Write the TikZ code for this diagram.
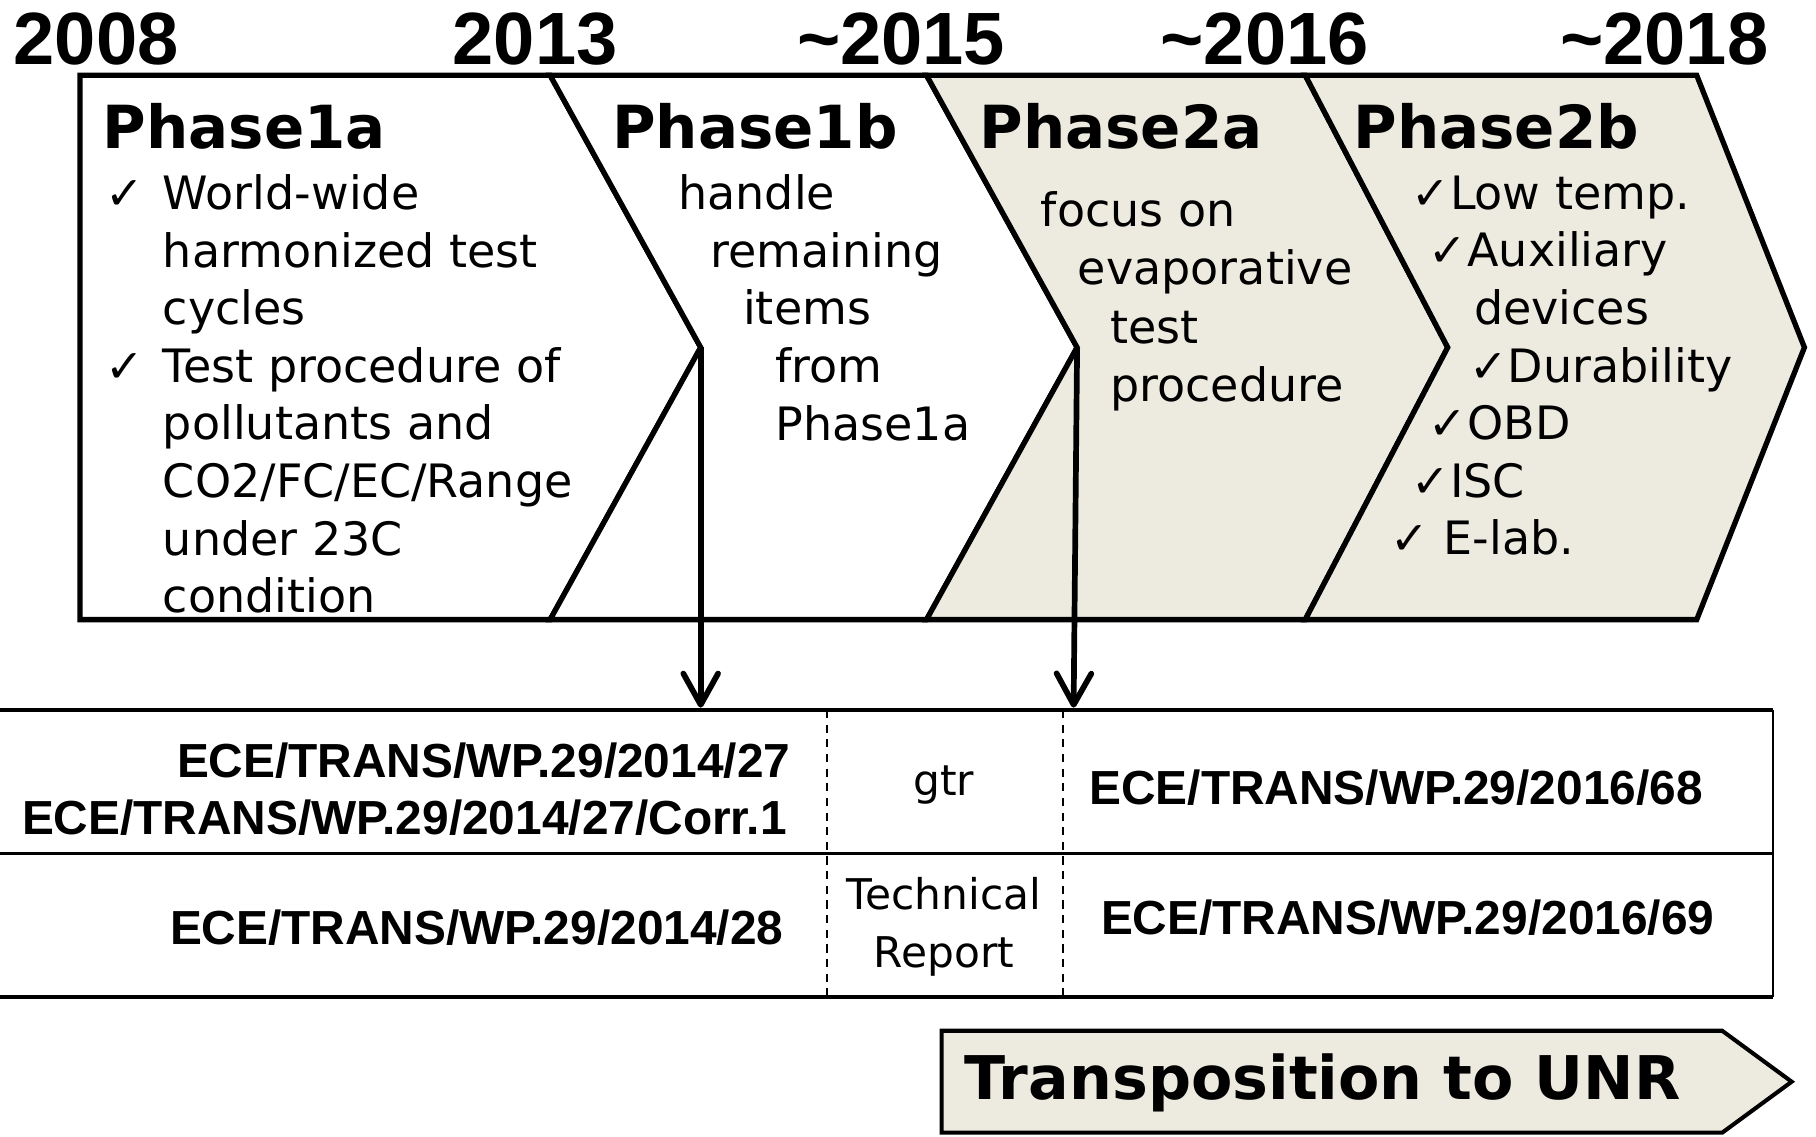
\documentclass[tikz,border=0pt]{standalone}
\usepackage{fontspec}
\setmainfont{DejaVu Sans}
\newfontfamily\arialfont{Liberation Sans}
\usetikzlibrary{arrows.meta, positioning, calc}
\definecolor{phasebg}{HTML}{EDEBE0}

\begin{document}
\begin{tikzpicture}[
  x=0.1mm, y=-0.1mm,
  every node/.style={inner sep=0pt},
  chevron/.style={draw=black, line width=1.3pt, line join=miter},
  phasetitle/.style={font=\bfseries\fontsize{14.6}{17}\selectfont, anchor=west},
  phasetext/.style={font=\fontsize{11.3}{14.14}\selectfont, align=left, anchor=base west},
  yearlabel/.style={font=\arialfont\bfseries\fontsize{18.2}{20}\selectfont},
  doclabel/.style={font=\arialfont\bfseries\fontsize{11.75}{14}\selectfont},
  kindlabel/.style={font=\fontsize{10.4}{14.2}\selectfont, align=center},
  rule/.style={line width=#1},
  gridline/.style={line width=0.5pt, dash pattern=on 2pt off 1.6pt},
  docarrow/.style={-{Straight Barb[length=2.7mm, width=3mm, round]}, line width=1.4pt},
]
\useasboundingbox (0,0) rectangle (1568,981);

% years
\node[yearlabel] (y2008) at (83,34) {2008};
\node[yearlabel] (y2013) at (462,34) {2013};
\node[yearlabel] (y2015) at (778,34) {\char`~2015};
\node[yearlabel] (y2016) at (1092,34) {\char`~2016};
\node[yearlabel] (y2018) at (1437,34) {\char`~2018};

% phases
\coordinate (n1) at (605,300);
\coordinate (n2) at (930,300);
\coordinate (n3) at (1250,300);
\draw[chevron, fill=white] (69,65) -- (475,65) -- (n1) -- (475,535) -- (69,535) -- cycle;
\draw[chevron, fill=white] (475,65) -- (800,65) -- (n2) -- (800,535) -- (475,535) -- (n1) -- cycle;
\draw[chevron, fill=phasebg] (800,65) -- (1127,65) -- (n3) -- (1127,535) -- (800,535) -- (n2) -- cycle;
\draw[chevron, fill=phasebg] (1127,65) -- (1465,65) -- (1558,300) -- (1465,535) -- (1127,535) -- (n3) -- cycle;

\node[phasetitle] (p1a) at (88,109) {Phase1a};
\node[phasetitle] (p1b) at (528,109) {Phase1b};
\node[phasetitle] (p2a) at (845,109) {Phase2a};
\node[phasetitle] (p2b) at (1168,109) {Phase2b};

% multi-line texts sit on their last baseline
\node[phasetext] (chk1) at (90,181) {✓};
\node[phasetext] (chk2) at (90,330) {✓};
\node[phasetext] (p1atext) at (140,529) {World-wide\\harmonized test\\cycles\\Test procedure of\\pollutants and\\CO2/FC/EC/Range\\under 23C\\condition};
\node[phasetext] (p1btext) at (585,380) {handle\\\hspace*{2.8mm}remaining\\\hspace*{5.6mm}items\\\hspace*{8.4mm}from\\\hspace*{8.4mm}Phase1a};
\node[phasetext, font=\fontsize{11.3}{14.4}\selectfont] (p2atext) at (898,347) {focus on\\\hspace*{3.2mm}evaporative\\\hspace*{6mm}test\\\hspace*{6mm}procedure};
\node[phasetext] (p2btext) at (1200,479) {\hspace*{1.8mm}✓Low temp.\\\hspace*{3.3mm}✓Auxiliary\\\hspace*{7.2mm}devices\\\hspace*{6.8mm}✓Durability\\\hspace*{3.3mm}✓OBD\\\hspace*{1.8mm}✓ISC\\✓ E-lab.};

% documents table
\coordinate (tabtop) at (0,613);
\coordinate (tabmid) at (0,737);
\coordinate (tabbot) at (0,861);
\draw[rule=1pt] (tabtop) -- ++(1531,0);
\draw[rule=0.6pt] (tabmid) -- ++(1531,0);
\draw[rule=1pt] (tabbot) -- ++(1531,0);
\draw[rule=0.6pt] (1531,613) -- (1531,861);
\draw[gridline] (714,613) -- (714,861);
\draw[gridline] (918,613) -- (918,861);

\draw[docarrow] (n1) -- ($(n1 |- tabtop)+(0,-2)$);
\draw[docarrow] (n2) -- ($(n2 |- tabtop)+(-3,-2)$);

\node[doclabel, anchor=east] (d27) at (683,657) {ECE/TRANS/WP.29/2014/27};
\node[doclabel, anchor=east] (d27c) at (680,706) {ECE/TRANS/WP.29/2014/27/Corr.1};
\node[kindlabel] (gtr) at (815,678) {gtr};
\node[doclabel, anchor=west] (d68) at (940,680) {ECE/TRANS/WP.29/2016/68};
\node[doclabel, anchor=east] (d28) at (677,801) {ECE/TRANS/WP.29/2014/28};
\node[kindlabel] (tr) at (815,800) {Technical\\Report};
\node[doclabel, anchor=west] (d69) at (950,792) {ECE/TRANS/WP.29/2016/69};

% transposition
\draw[chevron, line width=1pt, fill=phasebg] (813,890) -- (1487,890) -- (1547,934) -- (1487,978) -- (813,978) -- cycle;
\node[phasetitle, font=\bfseries\fontsize{14.8}{17}\selectfont] (unr) at (832,935) {Transposition to UNR};
\end{tikzpicture}
\end{document}
